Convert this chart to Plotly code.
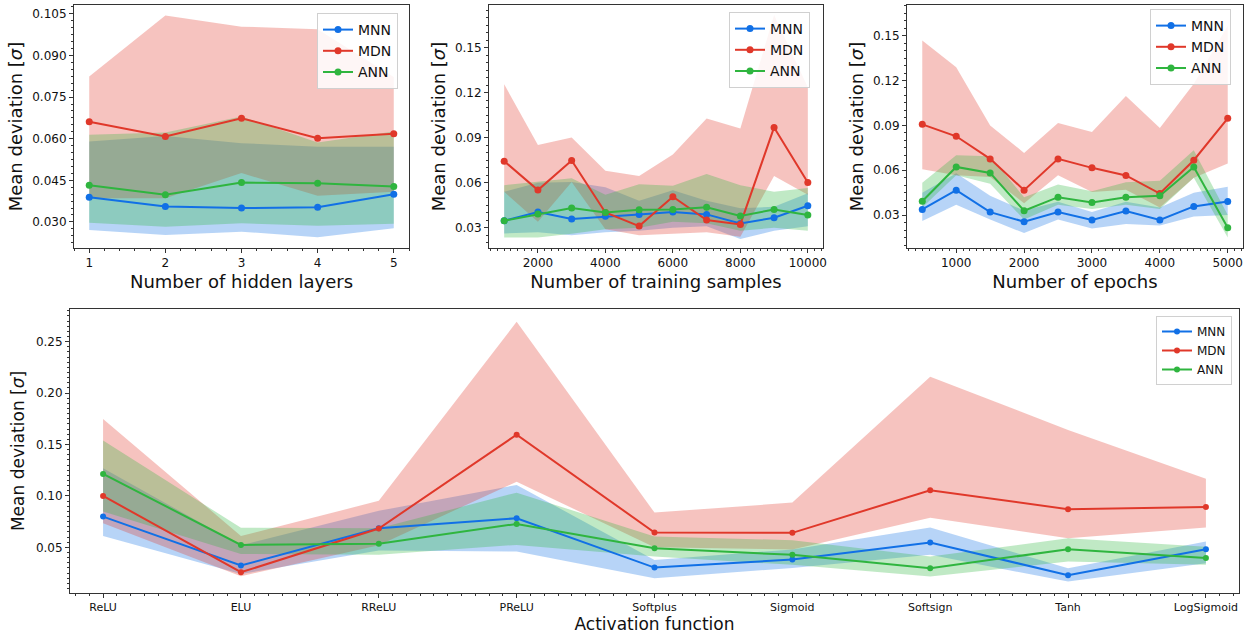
import plotly.graph_objects as go

# ---------------- data ----------------
layers = [1, 2, 3, 4, 5]
mnn_l = [0.0389, 0.0356, 0.0350, 0.0353, 0.0400]
mnn_l_lo = [0.0271, 0.0253, 0.0265, 0.0245, 0.0277]
mnn_l_hi = [0.0590, 0.0610, 0.0584, 0.0571, 0.0571]
mdn_l = [0.0661, 0.0608, 0.0674, 0.0602, 0.0618]
mdn_l_lo = [0.0385, 0.0385, 0.0476, 0.0394, 0.0409]
mdn_l_hi = [0.0824, 0.1044, 0.1004, 0.0995, 0.0822]
ann_l = [0.0432, 0.0398, 0.0442, 0.0439, 0.0428]
ann_l_lo = [0.0297, 0.0283, 0.0295, 0.0286, 0.0293]
ann_l_hi = [0.0614, 0.0622, 0.0680, 0.0586, 0.0626]

samples = [1000, 2000, 3000, 4000, 5000, 6000, 7000, 8000, 9000, 10000]
mnn_s = [0.0347, 0.0405, 0.0358, 0.0376, 0.0389, 0.0405, 0.0389, 0.0329, 0.0367, 0.0447]
mnn_s_lo = [0.0262, 0.0270, 0.0250, 0.0270, 0.0280, 0.0300, 0.0310, 0.0225, 0.0280, 0.0310]
mnn_s_hi = [0.0540, 0.0600, 0.0605, 0.0570, 0.0480, 0.0550, 0.0480, 0.0430, 0.0440, 0.0530]
mdn_s = [0.0744, 0.0551, 0.0749, 0.0402, 0.0311, 0.0507, 0.0351, 0.0322, 0.0969, 0.0602]
mdn_s_lo = [0.0540, 0.0340, 0.0605, 0.0290, 0.0250, 0.0260, 0.0270, 0.0240, 0.0645, 0.0520]
mdn_s_hi = [0.1256, 0.0851, 0.0902, 0.0680, 0.0645, 0.0789, 0.1029, 0.0962, 0.1718, 0.1236]
ann_s = [0.0347, 0.0391, 0.0431, 0.0402, 0.0420, 0.0422, 0.0436, 0.0378, 0.0422, 0.0385]
ann_s_lo = [0.0235, 0.0235, 0.0260, 0.0290, 0.0300, 0.0340, 0.0330, 0.0280, 0.0300, 0.0280]
ann_s_hi = [0.0584, 0.0606, 0.0630, 0.0520, 0.0590, 0.0580, 0.0658, 0.0584, 0.0540, 0.0565]

epochs = [500, 1000, 1500, 2000, 2500, 3000, 3500, 4000, 4500, 5000]
mnn_e = [0.0338, 0.0467, 0.0320, 0.0256, 0.0320, 0.0267, 0.0327, 0.0267, 0.0358, 0.0391]
mnn_e_lo = [0.0260, 0.0370, 0.0270, 0.0180, 0.0270, 0.0210, 0.0240, 0.0230, 0.0290, 0.0300]
mnn_e_hi = [0.0450, 0.0580, 0.0430, 0.0330, 0.0390, 0.0320, 0.0390, 0.0350, 0.0450, 0.0490]
mdn_e = [0.0907, 0.0827, 0.0676, 0.0467, 0.0676, 0.0616, 0.0565, 0.0444, 0.0667, 0.0947]
mdn_e_lo = [0.0607, 0.0567, 0.0555, 0.0380, 0.0566, 0.0455, 0.0470, 0.0350, 0.0550, 0.0645]
mdn_e_hi = [0.1467, 0.1289, 0.0900, 0.0716, 0.0916, 0.0856, 0.1096, 0.0882, 0.1178, 0.1567]
ann_e = [0.0393, 0.0622, 0.0582, 0.0329, 0.0420, 0.0385, 0.0420, 0.0429, 0.0622, 0.0216]
ann_e_lo = [0.0350, 0.0566, 0.0510, 0.0270, 0.0370, 0.0340, 0.0370, 0.0340, 0.0550, 0.0150]
ann_e_hi = [0.0516, 0.0700, 0.0693, 0.0420, 0.0505, 0.0460, 0.0520, 0.0530, 0.0733, 0.0300]

acts = ["ReLU", "ELU", "RReLU", "PReLU", "Softplus", "Sigmoid", "Softsign", "Tanh", "LogSigmoid"]
mnn_a = [0.0799, 0.0323, 0.0686, 0.0783, 0.0303, 0.0381, 0.0546, 0.0229, 0.0482]
mnn_a_lo = [0.0611, 0.0240, 0.0470, 0.0459, 0.0200, 0.0300, 0.0427, 0.0167, 0.0346]
mnn_a_hi = [0.1269, 0.0520, 0.0855, 0.1107, 0.0378, 0.0480, 0.0692, 0.0297, 0.0556]
mdn_a = [0.1000, 0.0258, 0.0683, 0.1596, 0.0644, 0.0641, 0.1055, 0.0871, 0.0893]
mdn_a_lo = [0.0735, 0.0220, 0.0520, 0.1139, 0.0500, 0.0480, 0.0789, 0.0589, 0.0692]
mdn_a_hi = [0.1749, 0.0610, 0.0952, 0.2694, 0.0838, 0.0935, 0.2160, 0.1642, 0.1166]
ann_a = [0.1214, 0.0524, 0.0534, 0.0728, 0.0492, 0.0427, 0.0297, 0.0482, 0.0397]
ann_a_lo = [0.0848, 0.0436, 0.0427, 0.0524, 0.0410, 0.0330, 0.0216, 0.0362, 0.0330]
ann_a_hi = [0.1538, 0.0690, 0.0686, 0.1032, 0.0605, 0.0570, 0.0410, 0.0589, 0.0507]

series_names = ["MNN", "MDN", "ANN"]

# ---------------- style ----------------
W, H = 1251, 637
COLORS = {"MNN": (17, 112, 230), "MDN": (224, 56, 42), "ANN": (47, 181, 63)}
FONT = "DejaVu Sans"
AX = "#333333"


def col(name, a=1.0):
    r, g, b = COLORS[name]
    return f"rgba({r},{g},{b},{a})"


def px_dom_x(a, b):
    return [a / W, b / W]


def px_dom_y(top, bottom):
    return [1 - bottom / H, 1 - top / H]


fig = go.Figure()

act_idx = list(range(len(acts)))
panels = [
    dict(x=layers, ax="x", ay="y", leg="legend",
         data={"MNN": (mnn_l, mnn_l_lo, mnn_l_hi), "MDN": (mdn_l, mdn_l_lo, mdn_l_hi),
               "ANN": (ann_l, ann_l_lo, ann_l_hi)}, msize=7),
    dict(x=samples, ax="x2", ay="y2", leg="legend2",
         data={"MNN": (mnn_s, mnn_s_lo, mnn_s_hi), "MDN": (mdn_s, mdn_s_lo, mdn_s_hi),
               "ANN": (ann_s, ann_s_lo, ann_s_hi)}, msize=7),
    dict(x=epochs, ax="x3", ay="y3", leg="legend3",
         data={"MNN": (mnn_e, mnn_e_lo, mnn_e_hi), "MDN": (mdn_e, mdn_e_lo, mdn_e_hi),
               "ANN": (ann_e, ann_e_lo, ann_e_hi)}, msize=7),
    dict(x=act_idx, ax="x4", ay="y4", leg="legend4",
         data={"MNN": (mnn_a, mnn_a_lo, mnn_a_hi), "MDN": (mdn_a, mdn_a_lo, mdn_a_hi),
               "ANN": (ann_a, ann_a_lo, ann_a_hi)}, msize=6),
]

for p in panels:
    for nm in series_names:
        mean, lo, hi = p["data"][nm]
        fig.add_trace(go.Scatter(x=p["x"], y=lo, mode="lines", line=dict(width=0),
                                 xaxis=p["ax"], yaxis=p["ay"], showlegend=False, hoverinfo="skip"))
        fig.add_trace(go.Scatter(x=p["x"], y=hi, mode="lines", line=dict(width=0),
                                 fill="tonexty", fillcolor=col(nm, 0.3),
                                 xaxis=p["ax"], yaxis=p["ay"], showlegend=False, hoverinfo="skip"))
    for nm in series_names:
        mean, lo, hi = p["data"][nm]
        fig.add_trace(go.Scatter(x=p["x"], y=mean, mode="lines+markers", name=nm,
                                 line=dict(color=col(nm), width=2),
                                 marker=dict(color=col(nm), size=p["msize"]),
                                 xaxis=p["ax"], yaxis=p["ay"], legend=p["leg"]))


def axis(dom, rng, title, tsize, fsize, minor_dtick, **kw):
    d = dict(domain=dom, range=rng, showline=True, mirror=True, linecolor=AX, linewidth=1,
             ticks="outside", ticklen=4, tickwidth=1, tickcolor=AX, showgrid=False,
             zeroline=False, automargin=False,
             tickfont=dict(family=FONT, size=fsize, color="#111"),
             title=dict(text=title, font=dict(family=FONT, size=tsize, color="#111")),
             minor=dict(ticks="outside", ticklen=2, tickcolor=AX, dtick=minor_dtick, showgrid=False))
    d.update(kw)
    return d


top = px_dom_y(5, 248)
bot = px_dom_y(309, 593)
ytitle = "Mean deviation [<i>σ</i>]"

fig.update_layout(
    width=W, height=H, margin=dict(l=0, r=0, t=0, b=0), template="none",
    paper_bgcolor="white", plot_bgcolor="white", font=dict(family=FONT, color="#111"),
    xaxis=axis(px_dom_x(74, 409), [0.8, 5.2], "Number of hidden layers", 18, 12, 0.2,
               tickvals=layers, anchor="y", title_standoff=5),
    yaxis=axis(top, [0.0206, 0.1082], ytitle, 18, 12, 0.0025, anchor="x",
               tickvals=[0.030, 0.045, 0.060, 0.075, 0.090, 0.105], tickformat=".3f", title_standoff=4),
    xaxis2=axis(px_dom_x(489, 823), [550, 10450], "Number of training samples", 18, 12, 200,
                tickvals=[2000, 4000, 6000, 8000, 10000],
                ticktext=["2000", "4000", "6000", "8000", "10000"], anchor="y2", title_standoff=5),
    yaxis2=axis(top, [0.0165, 0.1785], ytitle, 18, 12, 0.005, anchor="x2",
                tickvals=[0.03, 0.06, 0.09, 0.12, 0.15], tickformat=".2f", title_standoff=4),
    xaxis3=axis(px_dom_x(907, 1243), [275, 5225], "Number of epochs", 18, 12, 100,
                tickvals=[1000, 2000, 3000, 4000, 5000], anchor="y3", title_standoff=5),
    yaxis3=axis(top, [0.008, 0.1705], ytitle, 18, 12, 0.005, anchor="x3",
                tickvals=[0.03, 0.06, 0.09, 0.12, 0.15], tickformat=".2f", title_standoff=4),
    xaxis4=axis(px_dom_x(70, 1239), [-0.24, 8.24], "Activation function", 17, 11, 0.1,
                tickvals=act_idx, ticktext=acts, anchor="y4", title_standoff=4),
    yaxis4=axis(bot, [0.0056, 0.2818], ytitle, 17, 12, 0.005, anchor="x4",
                tickvals=[0.05, 0.10, 0.15, 0.20, 0.25], tickformat=".2f", title_standoff=6),
)

leg_common = dict(bgcolor="rgba(255,255,255,0.85)", bordercolor="#d0d0d0", borderwidth=1,
                  xanchor="left", yanchor="top", tracegroupgap=0, itemwidth=30,
                  traceorder="normal")
fig.update_layout(
    legend=dict(x=317 / W, y=1 - 13 / H, font=dict(family=FONT, size=14), **leg_common),
    legend2=dict(x=729 / W, y=1 - 12 / H, font=dict(family=FONT, size=14), **leg_common),
    legend3=dict(x=1150 / W, y=1 - 9 / H, font=dict(family=FONT, size=14), **leg_common),
    legend4=dict(x=1156 / W, y=1 - 316 / H, font=dict(family=FONT, size=12), **leg_common),
)

fig.write_html("out.html")
